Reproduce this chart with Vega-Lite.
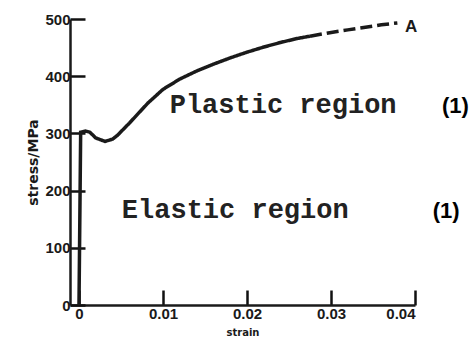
{
  "$schema": "https://vega.github.io/schema/vega-lite/v6.json",
  "width": 345,
  "height": 286,
  "autosize": {"type": "none"},
  "padding": {"left": 70, "top": 19, "right": 60, "bottom": 40},
  "background": "white",
  "config": {
    "view": {"stroke": null},
    "axis": {
      "grid": false,
      "domainColor": "#1a1a1a",
      "domainWidth": 2.5,
      "ticks": true,
      "tickColor": "#111111",
      "tickWidth": 2.5,
      "tickSize": -15,
      "labelFont": "Liberation Sans",
      "labelFontWeight": "bold",
      "labelFontSize": 15,
      "labelColor": "#1a1a1a",
      "titleFont": "DejaVu Sans",
      "titleFontWeight": "bold",
      "titleColor": "#1a1a1a"
    }
  },
  "datasets": {
    "curve": [
      {"strain": 0, "stress": 0, "seg": "solid"},
      {"strain": 0.0001, "stress": 150, "seg": "solid"},
      {"strain": 0.0002, "stress": 302, "seg": "solid"},
      {"strain": 0.0008, "stress": 304, "seg": "solid"},
      {"strain": 0.0013, "stress": 302, "seg": "solid"},
      {"strain": 0.002, "stress": 292, "seg": "solid"},
      {"strain": 0.0031, "stress": 286, "seg": "solid"},
      {"strain": 0.004, "stress": 290, "seg": "solid"},
      {"strain": 0.0046, "stress": 297, "seg": "solid"},
      {"strain": 0.006, "stress": 318, "seg": "solid"},
      {"strain": 0.0082, "stress": 353, "seg": "solid"},
      {"strain": 0.01, "stress": 377, "seg": "solid"},
      {"strain": 0.012, "stress": 395, "seg": "solid"},
      {"strain": 0.014, "stress": 409, "seg": "solid"},
      {"strain": 0.016, "stress": 421, "seg": "solid"},
      {"strain": 0.018, "stress": 432, "seg": "solid"},
      {"strain": 0.02, "stress": 442, "seg": "solid"},
      {"strain": 0.022, "stress": 451, "seg": "solid"},
      {"strain": 0.024, "stress": 459, "seg": "solid"},
      {"strain": 0.026, "stress": 466, "seg": "solid"},
      {"strain": 0.0275, "stress": 470, "seg": "solid"},
      {"strain": 0.0275, "stress": 470, "seg": "dashed"},
      {"strain": 0.0302, "stress": 477, "seg": "dashed"},
      {"strain": 0.032, "stress": 481, "seg": "dashed"},
      {"strain": 0.0343, "stress": 486, "seg": "dashed"},
      {"strain": 0.036, "stress": 490, "seg": "dashed"},
      {"strain": 0.0379, "stress": 493, "seg": "dashed"}
    ],
    "regions": [
      {"label": "Plastic region", "strain": 0.0108, "stress": 336},
      {"label": "Elastic region", "strain": 0.0051, "stress": 152}
    ],
    "marks": [
      {"label": "(1)", "strain": 0.0432, "stress": 336},
      {"label": "(1)", "strain": 0.0421, "stress": 152}
    ],
    "endlabel": [
      {"label": "A", "strain": 0.0388, "stress": 477}
    ]
  },
  "layer": [
    {
      "data": {"name": "curve"},
      "mark": {"type": "line", "color": "#1a1a1a", "strokeWidth": 3.5, "strokeCap": "butt"},
      "encoding": {
        "x": {
          "field": "strain", "type": "quantitative",
          "scale": {"domain": [-0.00107, 0.04], "nice": false, "zero": false},
          "axis": {"values": [0, 0.01, 0.02, 0.03, 0.04], "format": ".2~f", "title": "strain", "titleFontSize": 10, "labelPadding": 16, "titlePadding": 6}
        },
        "y": {
          "field": "stress", "type": "quantitative",
          "scale": {"domain": [0, 500], "nice": false},
          "axis": {"values": [0, 100, 200, 300, 400, 500], "title": "stress/MPa", "titleFontSize": 14, "labelPadding": 15, "titlePadding": 4}
        },
        "detail": {"field": "seg"},
        "strokeDash": {
          "field": "seg", "type": "nominal",
          "scale": {"domain": ["solid", "dashed"], "range": [[1, 0], [12, 5]]},
          "legend": null
        }
      }
    },
    {
      "data": {"name": "regions"},
      "mark": {"type": "text", "align": "left", "baseline": "alphabetic", "font": "Liberation Mono", "fontWeight": "bold", "fontSize": 27, "color": "#222222"},
      "encoding": {
        "x": {"field": "strain", "type": "quantitative"},
        "y": {"field": "stress", "type": "quantitative"},
        "text": {"field": "label"}
      }
    },
    {
      "data": {"name": "marks"},
      "mark": {"type": "text", "align": "left", "baseline": "alphabetic", "font": "Liberation Sans", "fontWeight": "bold", "fontSize": 22, "color": "#000000"},
      "encoding": {
        "x": {"field": "strain", "type": "quantitative"},
        "y": {"field": "stress", "type": "quantitative"},
        "text": {"field": "label"}
      }
    },
    {
      "data": {"name": "endlabel"},
      "mark": {"type": "text", "align": "left", "baseline": "alphabetic", "font": "Liberation Sans", "fontWeight": "bold", "fontSize": 17, "color": "#1a1a1a"},
      "encoding": {
        "x": {"field": "strain", "type": "quantitative"},
        "y": {"field": "stress", "type": "quantitative"},
        "text": {"field": "label"}
      }
    }
  ]
}
